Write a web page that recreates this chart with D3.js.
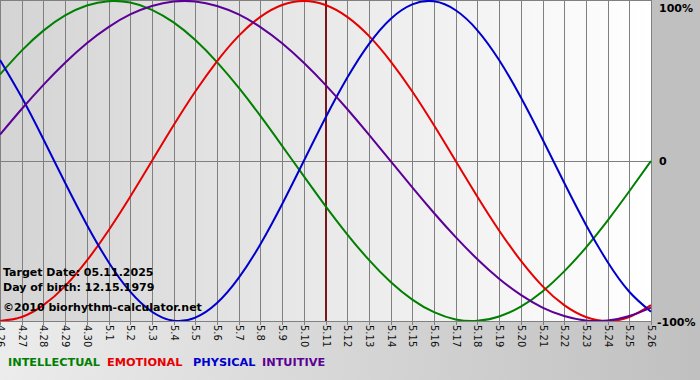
<!DOCTYPE html>
<html><head><meta charset="utf-8">
<script src="https://cdn.jsdelivr.net/npm/d3@7"></script>
<style>html,body{margin:0;padding:0;overflow:hidden;}svg{display:block;}</style>
</head><body>
<svg id="c" width="700" height="380"></svg>
<script>
const days = ["4.26","4.27","4.28","4.29","4.30","5.1","5.2","5.3","5.4","5.5","5.6","5.7","5.8","5.9","5.10","5.11","5.12","5.13","5.14","5.15","5.16","5.17","5.18","5.19","5.20","5.21","5.22","5.23","5.24","5.25","5.26"];
const intellectual = [0.541,0.690,0.815,0.910,0.972,0.999,0.990,0.945,0.866,0.756,0.618,0.458,0.282,0.095,-0.095,-0.282,-0.458,-0.618,-0.756,-0.866,-0.945,-0.990,-0.999,-0.972,-0.910,-0.815,-0.690,-0.541,-0.372,-0.189,0.000];
const emotional = [-1.000,-0.975,-0.901,-0.782,-0.623,-0.434,-0.223,0.000,0.223,0.434,0.623,0.782,0.901,0.975,1.000,0.975,0.901,0.782,0.623,0.434,0.223,0.000,-0.223,-0.434,-0.623,-0.782,-0.901,-0.975,-1.000,-0.975,-0.901];
const physical = [0.631,0.398,0.136,-0.136,-0.398,-0.631,-0.817,-0.942,-0.998,-0.979,-0.888,-0.731,-0.520,-0.270,0.000,0.270,0.520,0.731,0.888,0.979,0.998,0.942,0.817,0.631,0.398,0.136,-0.136,-0.398,-0.631,-0.817,-0.942];
const intuitive = [0.165,0.325,0.476,0.614,0.736,0.837,0.916,0.969,0.997,0.997,0.969,0.916,0.837,0.736,0.614,0.476,0.325,0.165,0.000,-0.165,-0.325,-0.476,-0.614,-0.736,-0.837,-0.916,-0.969,-0.997,-0.997,-0.969,-0.916];
const yTicks = [{v:1,label:"100%"},{v:0,label:"0"},{v:-1,label:"-100%"}];
const targetDay = "5.11";
const infoLines = ["Target Date: 05.11.2025","Day of birth: 12.15.1979"];
const copyright = "©2010 biorhythm-calculator.net";
const seriesNames = ["INTELLECTUAL","EMOTIONAL","PHYSICAL","INTUITIVE"];

const colors = {INTELLECTUAL:"#008000",EMOTIONAL:"#e60000",PHYSICAL:"#0000cc",INTUITIVE:"#5c0096"};
const seriesData = {INTELLECTUAL:intellectual,EMOTIONAL:emotional,PHYSICAL:physical,INTUITIVE:intuitive};

const W=700,H=380;
const P={l:0,r:651,t:0,b:321};
const svg=d3.select("#c");
const font="'DejaVu Sans', Verdana, sans-serif";
const defs=svg.append("defs");
const g1=defs.append("linearGradient").attr("id","bgOuter").attr("x1",0).attr("x2",1).attr("y1",0).attr("y2",0);
g1.append("stop").attr("offset","0%").attr("stop-color","#ececec");
g1.append("stop").attr("offset","100%").attr("stop-color","#c0c0c0");
const g2=defs.append("linearGradient").attr("id","bgPlot").attr("x1",0).attr("x2",1).attr("y1",0).attr("y2",0);
g2.append("stop").attr("offset","0%").attr("stop-color","#d4d4d4");
g2.append("stop").attr("offset","100%").attr("stop-color","#ffffff");
defs.append("clipPath").attr("id","clip").append("rect").attr("x",P.l).attr("y",P.t).attr("width",P.r-P.l+1).attr("height",P.b-P.t);

svg.append("rect").attr("width",W).attr("height",H).attr("fill","url(#bgOuter)");
svg.append("rect").attr("x",651).attr("y",0).attr("width",49).attr("height",P.b).attr("fill","#c0c0c0");
svg.append("rect").attr("x",P.l).attr("y",P.t).attr("width",P.r-P.l).attr("height",P.b-P.t).attr("fill","url(#bgPlot)");

const x=d3.scalePoint().domain(days).range([P.l,P.r]);
const y=d3.scaleLinear().domain([-1,1]).range([P.b,P.t+1]);

// vertical grid
svg.append("g").selectAll("line").data(days).join("line")
  .attr("x1",d=>Math.round(x(d))+0.5).attr("x2",d=>Math.round(x(d))+0.5).attr("y1",P.t).attr("y2",P.b+4)
  .attr("stroke","#808080").attr("stroke-width",1);
// horizontal lines
svg.append("line").attr("x1",P.l).attr("x2",P.r).attr("y1",Math.round(y(0))+0.5).attr("y2",Math.round(y(0))+0.5).attr("stroke","#808080");
svg.append("line").attr("x1",P.l).attr("x2",P.r).attr("y1",P.b+0.5).attr("y2",P.b+0.5).attr("stroke","#808080");
svg.append("line").attr("x1",P.l).attr("x2",P.r+1).attr("y1",0.5).attr("y2",0.5).attr("stroke","#808080");

// target day line
svg.append("line").attr("x1",Math.round(x(targetDay))).attr("x2",Math.round(x(targetDay))).attr("y1",P.t).attr("y2",P.b)
  .attr("stroke","#7a1818").attr("stroke-width",2);

// curves
const line=d3.line().x((d,i)=>x(days[i])).y(d=>y(d)).curve(d3.curveNatural);
const cg=svg.append("g").attr("clip-path","url(#clip)");
seriesNames.forEach(n=>{
  cg.append("path").attr("d",line(seriesData[n])).attr("fill","none").attr("stroke",colors[n]).attr("stroke-width",2);
});

// x labels
svg.append("g").selectAll("text").data(days).join("text")
  .attr("transform",d=>`translate(${Math.round(x(d))-3.5},${P.b+4}) rotate(90)`)
  .attr("font-family",font).attr("font-size",10).attr("fill","#111")
  .text(d=>d);

// y labels
const yBase={"1":12,"0":165,"-1":326};
svg.append("g").selectAll("text").data(yTicks).join("text")
  .attr("x",d=>d.v===-1?657:659).attr("y",d=>yBase[String(d.v)])
  .attr("font-family",font).attr("font-size",11).attr("font-weight","bold").attr("fill","#000")
  .text(d=>d.label);

// info text
svg.append("g").selectAll("text").data(infoLines).join("text")
  .attr("x",3).attr("y",(d,i)=>276+i*15)
  .attr("font-family",font).attr("font-size",11).attr("font-weight","bold").attr("fill","#000").text(d=>d);
svg.append("text").attr("x",3).attr("y",311).attr("font-family",font).attr("font-size",11).attr("font-weight","bold").attr("fill","#000").text(copyright);

// legend
const legendX=[8,107,193,262];
svg.append("g").selectAll("text").data(seriesNames).join("text")
  .attr("x",(d,i)=>legendX[i]).attr("y",366)
  .attr("font-family",font).attr("font-size",11.3).attr("font-weight","bold")
  .attr("fill",d=>colors[d]).text(d=>d);
</script>
</body></html>
